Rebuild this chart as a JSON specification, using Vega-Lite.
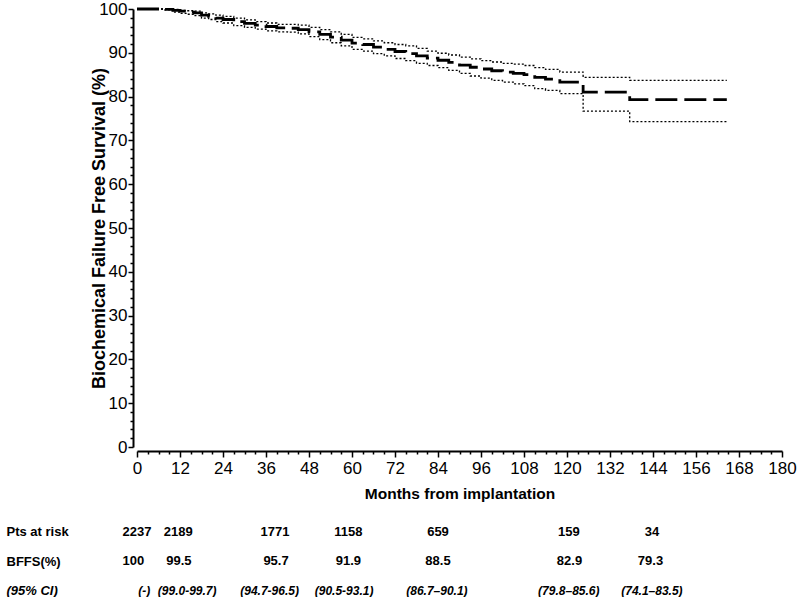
{
  "$schema": "https://vega.github.io/schema/vega-lite/v6.json",
  "padding": {"left": 6, "top": 0, "right": 0, "bottom": 0},
  "config": {
    "view": {"stroke": null},
    "font": "Liberation Sans",
    "axis": {"domainColor": "black", "tickColor": "black", "labelColor": "black", "titleColor": "black", "grid": false}
  },
  "datasets": {
    "km": [
      {"m": 0, "est": 100, "lo": 100, "hi": 100},
      {"m": 3, "est": 100, "lo": 100, "hi": 100},
      {"m": 6, "est": 100, "lo": 100, "hi": 100},
      {"m": 8, "est": 99.9, "lo": 99.8, "hi": 100},
      {"m": 10, "est": 99.7, "lo": 99.3, "hi": 99.9},
      {"m": 12, "est": 99.5, "lo": 99.0, "hi": 99.7},
      {"m": 14, "est": 99.3, "lo": 98.8, "hi": 99.6},
      {"m": 16, "est": 99.1, "lo": 98.5, "hi": 99.5},
      {"m": 18, "est": 98.6, "lo": 97.9, "hi": 99.1},
      {"m": 20, "est": 98.3, "lo": 97.6, "hi": 98.9},
      {"m": 22, "est": 97.9, "lo": 97.1, "hi": 98.6},
      {"m": 24, "est": 97.6, "lo": 96.8, "hi": 98.3},
      {"m": 27, "est": 97.1, "lo": 96.2, "hi": 97.9},
      {"m": 30, "est": 96.7, "lo": 95.8, "hi": 97.5},
      {"m": 33, "est": 96.3, "lo": 95.4, "hi": 97.1},
      {"m": 36, "est": 96.0, "lo": 95.0, "hi": 96.8},
      {"m": 39, "est": 95.7, "lo": 94.8, "hi": 96.5},
      {"m": 42, "est": 95.6, "lo": 94.7, "hi": 96.5},
      {"m": 45, "est": 95.3, "lo": 94.3, "hi": 96.3},
      {"m": 48, "est": 94.8, "lo": 93.7, "hi": 95.8},
      {"m": 51, "est": 94.2, "lo": 93.0, "hi": 95.3},
      {"m": 54, "est": 93.6, "lo": 92.3, "hi": 94.8},
      {"m": 57, "est": 92.9, "lo": 91.6, "hi": 94.2},
      {"m": 60, "est": 92.2, "lo": 90.8, "hi": 93.5},
      {"m": 63, "est": 91.9, "lo": 90.4, "hi": 93.2},
      {"m": 66, "est": 91.3, "lo": 89.8, "hi": 92.7},
      {"m": 69, "est": 90.8, "lo": 89.3, "hi": 92.3},
      {"m": 72, "est": 90.3, "lo": 88.7, "hi": 91.9},
      {"m": 75, "est": 89.8, "lo": 88.2, "hi": 91.6},
      {"m": 78, "est": 89.3, "lo": 87.6, "hi": 91.0},
      {"m": 81, "est": 88.8, "lo": 87.1, "hi": 90.4},
      {"m": 84, "est": 88.3, "lo": 86.6, "hi": 89.9},
      {"m": 87, "est": 87.8, "lo": 86.0, "hi": 89.5},
      {"m": 90, "est": 87.2, "lo": 85.3, "hi": 89.0},
      {"m": 93, "est": 86.7, "lo": 84.7, "hi": 88.6},
      {"m": 96, "est": 86.3, "lo": 84.2, "hi": 88.2},
      {"m": 99, "est": 85.9, "lo": 83.7, "hi": 87.9},
      {"m": 102, "est": 85.6, "lo": 83.3, "hi": 87.6},
      {"m": 105, "est": 85.3, "lo": 82.9, "hi": 87.4},
      {"m": 108, "est": 85.0, "lo": 82.5, "hi": 87.1},
      {"m": 111, "est": 84.4, "lo": 81.8, "hi": 86.6},
      {"m": 114, "est": 84.0, "lo": 81.4, "hi": 86.2},
      {"m": 118, "est": 83.3, "lo": 80.7, "hi": 85.6},
      {"m": 124.5, "est": 81.0, "lo": 76.7, "hi": 84.4},
      {"m": 137.5, "est": 79.3, "lo": 74.3, "hi": 83.7},
      {"m": 164.6, "est": 79.3, "lo": 74.3, "hi": 83.7}
    ],
    "table": [
      {"row": "Pts at risk", "m": 0, "label": "2237"},
      {"row": "Pts at risk", "m": 11.5, "label": "2189"},
      {"row": "Pts at risk", "m": 38.5, "label": "1771"},
      {"row": "Pts at risk", "m": 59, "label": "1158"},
      {"row": "Pts at risk", "m": 84, "label": "659"},
      {"row": "Pts at risk", "m": 120.5, "label": "159"},
      {"row": "Pts at risk", "m": 143.7, "label": "34"},
      {"row": "BFFS(%)", "m": -1, "label": "100"},
      {"row": "BFFS(%)", "m": 11.7, "label": "99.5"},
      {"row": "BFFS(%)", "m": 38.8, "label": "95.7"},
      {"row": "BFFS(%)", "m": 59, "label": "91.9"},
      {"row": "BFFS(%)", "m": 84, "label": "88.5"},
      {"row": "BFFS(%)", "m": 120.7, "label": "82.9"},
      {"row": "BFFS(%)", "m": 143.3, "label": "79.3"},
      {"row": "(95% CI)", "m": 2, "label": "(-)"},
      {"row": "(95% CI)", "m": 14, "label": "(99.0-99.7)"},
      {"row": "(95% CI)", "m": 37, "label": "(94.7-96.5)"},
      {"row": "(95% CI)", "m": 57.8, "label": "(90.5-93.1)"},
      {"row": "(95% CI)", "m": 83.7, "label": "(86.7–90.1)"},
      {"row": "(95% CI)", "m": 120.5, "label": "(79.8–85.6)"},
      {"row": "(95% CI)", "m": 143.7, "label": "(74.1–83.5)"}
    ]
  },
  "spacing": 15,
  "vconcat": [
    {
      "width": 645,
      "height": 438,
      "data": {"name": "km"},
      "resolve": {"axis": {"x": "independent", "y": "independent"}},
      "layer": [
        {
          "mark": {"type": "line", "interpolate": "step-after", "color": "black", "strokeWidth": 2.8, "strokeDash": [22, 7]},
          "encoding": {
            "x": {"field": "m", "type": "quantitative", "scale": {"domain": [0, 180], "nice": false},
              "axis": {"values": [0,12,24,36,48,60,72,84,96,108,120,132,144,156,168,180], "offset": 4, "tickSize": 6, "tickWidth": 1.5, "domainWidth": 2, "labelFontSize": 17, "labelPadding": 3, "labelFlush": false, "labelOverlap": false, "title": "Months from implantation", "titleFontSize": 15.5, "titleFontWeight": "bold", "titlePadding": 10}},
            "y": {"field": "est", "type": "quantitative", "scale": {"domain": [0, 100], "nice": false},
              "axis": {"values": [0,10,20,30,40,50,60,70,80,90,100], "offset": 4, "tickSize": 5, "tickWidth": 1.5, "domainWidth": 2, "labelFontSize": 17, "labelPadding": 1, "labelFlush": false, "labelOverlap": false, "title": "Biochemical Failure Free Survival (%)", "titleFontSize": 18, "titleFontWeight": "bold", "titlePadding": -10}}
          }
        },
        {
          "transform": [{"fold": ["lo", "hi"], "as": ["bound", "val"]}],
          "mark": {"type": "line", "interpolate": "step-after", "color": "black", "strokeWidth": 1.3, "strokeDash": [2, 2]},
          "encoding": {
            "x": {"field": "m", "type": "quantitative",
              "axis": {"values": [3,6,9,15,18,21,27,30,33,39,42,45,51,54,57,63,66,69,75,78,81,87,90,93,99,102,105,111,114,117,123,126,129,135,138,141,147,150,153,159,162,165,171,174,177], "orient": "bottom", "offset": 4, "tickSize": 3, "tickWidth": 1.5, "domain": false, "labels": false, "title": null}},
            "y": {"field": "val", "type": "quantitative",
              "axis": {"values": [2,4,6,8,12,14,16,18,22,24,26,28,32,34,36,38,42,44,46,48,52,54,56,58,62,64,66,68,72,74,76,78,82,84,86,88,92,94,96,98], "orient": "left", "offset": 4, "tickSize": 3, "tickWidth": 1.5, "domain": false, "labels": false, "title": null}},
            "detail": {"field": "bound", "type": "nominal"}
          }
        }
      ]
    },
    {
      "width": 645,
      "height": 88.5,
      "data": {"name": "table"},
      "encoding": {
        "x": {"field": "m", "type": "quantitative", "scale": {"domain": [0, 180], "nice": false}, "axis": null},
        "y": {"field": "row", "type": "nominal", "sort": ["Pts at risk", "BFFS(%)", "(95% CI)"], "scale": {"paddingInner": 0, "paddingOuter": 0},
          "axis": {"title": null, "ticks": false, "domain": false, "labelAlign": "left", "labelPadding": 131, "labelFontSize": 13, "labelFont": "Liberation Sans", "labelFontWeight": "bold",
            "labelFontStyle": {"condition": {"test": "datum.value === '(95% CI)'", "value": "italic"}, "value": "normal"}}},
        "text": {"field": "label", "type": "nominal"}
      },
      "layer": [
        {
          "transform": [{"filter": "datum.row !== '(95% CI)'"}],
          "mark": {"type": "text", "font": "Liberation Sans", "fontSize": 13, "fontWeight": "bold", "color": "black", "align": "center", "baseline": "middle"}
        },
        {
          "transform": [{"filter": "datum.row === '(95% CI)'"}],
          "mark": {"type": "text", "font": "Liberation Sans", "fontSize": 12, "fontWeight": "bold", "fontStyle": "italic", "color": "black", "align": "center", "baseline": "middle"}
        }
      ]
    }
  ]
}
